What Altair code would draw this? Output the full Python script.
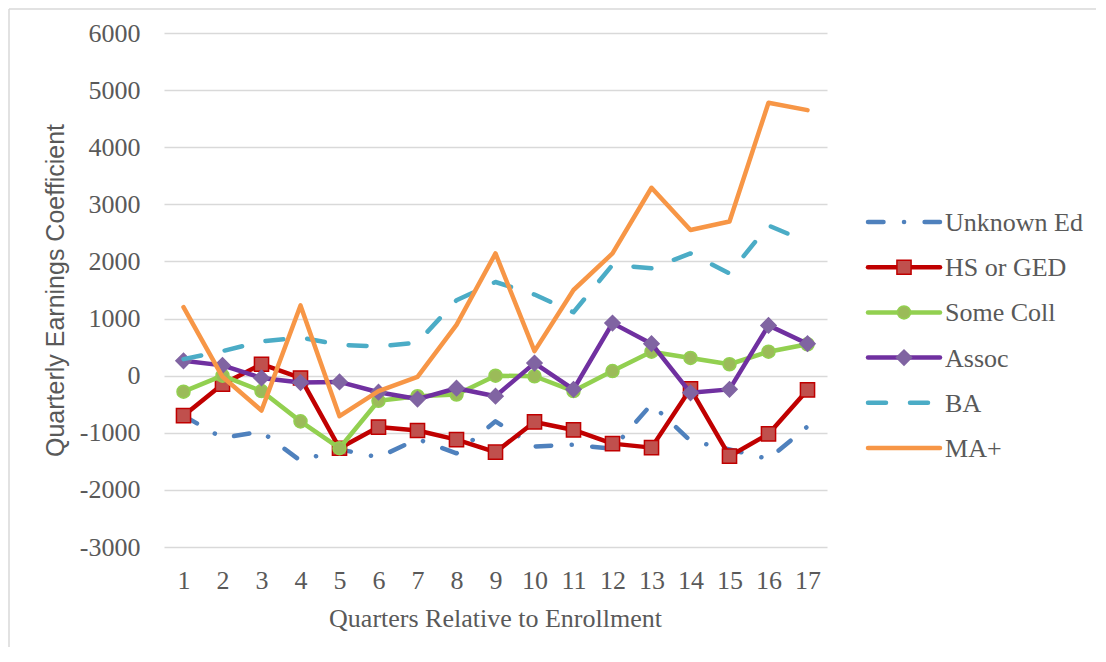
import altair as alt
import pandas as pd

quarters = list(range(1, 18))
series_names = ["Unknown Ed", "HS or GED", "Some Coll", "Assoc", "BA", "MA+"]

unknown_ed = [-700, -1090, -980, -1490, -1290, -1430, -1110, -1360, -800, -1240, -1210, -1280, -500, -1140, -1290, -1460, -890]
hs_ged = [-700, -150, 200, -40, -1270, -900, -960, -1120, -1340, -810, -950, -1190, -1260, -230, -1410, -1020, -250]
some_coll = [-280, 0, -270, -800, -1270, -440, -360, -330, 0, -10, -270, 80, 420, 310, 200, 420, 550]
assoc = [260, 180, -40, -120, -110, -290, -410, -220, -360, 220, -240, 920, 560, -300, -240, 880, 560]
ba = [290, 430, 600, 670, 540, 510, 580, 1320, 1640, 1420, 1110, 1940, 1880, 2140, 1790, 2630, 2340]
ma_plus = [1200, -20, -610, 1230, -710, -270, -20, 890, 2140, 430, 1500, 2140, 3290, 2550, 2700, 4780, 4650]

y_ticks = list(range(-3000, 6001, 1000))

values = [unknown_ed, hs_ged, some_coll, assoc, ba, ma_plus]
line_colors = ["#4F81BD", "#C00000", "#92D050", "#7030A0", "#4BACC6", "#F79646"]
dashes = [[15.5, 20.5, 0.1, 20.5], None, None, None, [18, 24], None]
shapes = [None, "square", "circle", "diamond", None, None]
fills = [None, "#C0504D", "#9BBB59", "#8064A2", None, None]
sizes = [None, 200, 170, 230, None, None]

TXT = "#595959"
SERIF = "Liberation Serif"

x_scale = alt.Scale(domain=[0.5, 17.5], nice=False, zero=False)
y_scale = alt.Scale(domain=[-3000, 6000], nice=False, zero=False)

x_axis = alt.Axis(values=quarters, grid=False, domain=False, ticks=False, tickSize=0,
                  labelFont=SERIF, labelFontSize=26, labelColor=TXT, labelPadding=41,
                  labelBaseline="alphabetic", title="Quarters Relative to Enrollment",
                  titleFont=SERIF, titleFontSize=26, titleFontWeight="normal", titleColor=TXT,
                  titleBaseline="alphabetic", titleY=79, titleX=331, labelExpr="datum.value + ''")
y_axis = alt.Axis(values=y_ticks, grid=True, gridColor="#D9D9D9", gridWidth=1.6, domain=False,
                  ticks=False, tickSize=0, labelFont=SERIF, labelFontSize=26, labelColor=TXT,
                  labelPadding=24, labelExpr="datum.value + ''",
                  title="Quarterly Earnings Coefficient", titleFont="Liberation Sans",
                  titleFontSize=25, titleFontWeight="normal", titleColor=TXT,
                  titleBaseline="alphabetic", titleX=-101, titleY=257, titleAngle=270)

main_layers = []
legend_layers = []
lx_scale = alt.Scale(domain=[0, 1], range=[704, 776], nice=False, zero=False)
ly_scale = alt.Scale(type="point", domain=series_names, range=[189, 415], padding=0)

enc_x = alt.X("q:Q", scale=x_scale, axis=x_axis)
enc_y = alt.Y("v:Q", scale=y_scale, axis=y_axis)
lenc_x = alt.X("lx:Q", scale=lx_scale, axis=None)
lenc_y = alt.Y("s:N", scale=ly_scale, axis=None)

for i, name in enumerate(series_names):
    df = pd.DataFrame({"q": quarters, "v": values[i], "s": name})
    line_kw = dict(color=line_colors[i], strokeWidth=4.5, strokeJoin="round", strokeCap="round")
    if dashes[i]:
        line_kw["strokeDash"] = dashes[i]
    main_layers.append(alt.Chart(df).mark_line(**line_kw).encode(x=enc_x, y=enc_y))
    ldf = pd.DataFrame({"lx": [0, 1], "s": [name, name]})
    legend_layers.append(alt.Chart(ldf).mark_line(**line_kw).encode(x=lenc_x, y=lenc_y))
    if shapes[i]:
        pt_kw = dict(shape=shapes[i], filled=True, fill=fills[i],
                     stroke=line_colors[i] if shapes[i] != "diamond" else fills[i],
                     strokeWidth=1.5, size=sizes[i], opacity=1)
        main_layers.append(alt.Chart(df).mark_point(**pt_kw).encode(x=enc_x, y=enc_y))
        mdf = pd.DataFrame({"lx": [0.5], "s": [name]})
        legend_layers.append(alt.Chart(mdf).mark_point(**pt_kw).encode(x=lenc_x, y=lenc_y))
    tdf = pd.DataFrame({"lx": [1.07], "s": [name]})
    legend_layers.append(alt.Chart(tdf).mark_text(align="left", baseline="middle", font=SERIF,
                                                   fontSize=26, color=TXT, dy=1).encode(
        x=lenc_x, y=lenc_y, text="s:N"))

# chart frame (light gray border on top and left, as in the reference)
frame_top = alt.Chart(pd.DataFrame({"f": [0]})).mark_rule(color="#D9D9D9", strokeWidth=1.5).encode(
    x=alt.value(-155), x2=alt.value(932), y=alt.value(-24))
frame_left = alt.Chart(pd.DataFrame({"f": [0]})).mark_rule(color="#D9D9D9", strokeWidth=1.5).encode(
    x=alt.value(-155), y=alt.value(-24), y2=alt.value(614))

main = alt.layer(*main_layers)
legend = alt.layer(*legend_layers)

chart = alt.layer(frame_top, frame_left, main, legend).resolve_scale(
    x="independent", y="independent").properties(
    width=663, height=514,
    autosize=alt.AutoSizeParams(type="none"),
    padding={"left": 156, "top": 25, "right": 270, "bottom": 100},
    background="white",
).configure_view(strokeWidth=0)

chart.save("out.html", embed_options={"renderer": "svg", "actions": False})
